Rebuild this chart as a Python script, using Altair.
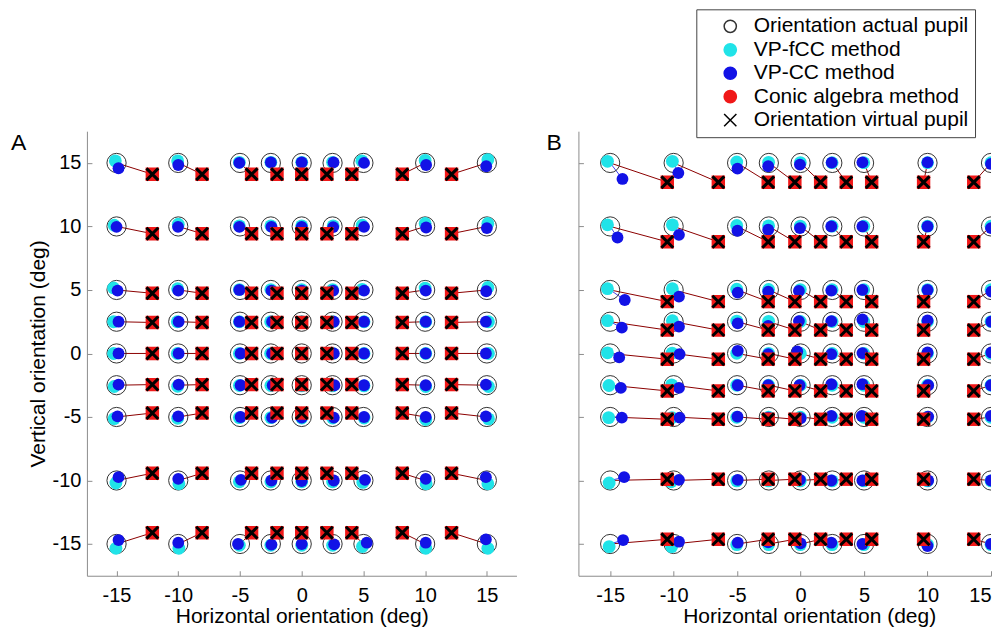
import altair as alt
import pandas as pd

FONT = "Liberation Sans"

# ---------------- data ----------------
COLS = [-15, -10, -5, -2.5, 0, 2.5, 5, 10, 15]          # actual horizontal orientation
ROWS = [15, 10, 5, 2.5, 0, -2.5, -5, -10, -15]          # actual vertical orientation
TICKS = [-15, -10, -5, 0, 5, 10, 15]
SERIES = ["Orientation actual pupil", "VP-fCC method", "VP-CC method",
          "Conic algebra method", "Orientation virtual pupil"]

# ---- panel A ----
A_VIRT_X = [-12.10, -8.07, -4.06, -2.00, 0.00, 2.04, 4.06, 8.15, 12.14]
A_VIRT_Y = [14.11, 9.43, 4.74, 2.44, 0.00, -2.45, -4.69, -9.43, -14.11]

A_CYAN_X = [
    [-15.10, -10.05, -5.05, -2.50, 0.00, 2.50, 4.87, 10.00, 15.08],
    [-15.19, -10.00, -5.05, -2.50, 0.00, 2.55, 4.90, 10.00, 15.08],
    [-15.24, -10.05, -5.05, -2.50, 0.00, 2.50, 4.90, 10.00, 15.08],
    [-15.24, -10.08, -5.05, -2.52, 0.00, 2.52, 5.05, 10.05, 15.13],
    [-15.24, -10.08, -5.05, -2.52, 0.00, 2.52, 5.05, 10.05, 15.13],
    [-15.19, -10.05, -5.05, -2.50, 0.00, 2.50, 5.05, 10.05, 15.13],
    [-15.19, -10.05, -5.05, -2.50, 0.00, 2.50, 5.05, 10.05, 15.13],
    [-15.05, -9.95, -5.05, -2.50, 0.00, 2.50, 4.95, 10.08, 15.08],
    [-15.05, -9.95, -5.05, -2.50, 0.00, 2.50, 4.92, 10.05, 15.08],
]
A_CYAN_Y = [
    [15.16, 15.16, 15.05, 15.05, 15.05, 15.05, 15.16, 15.20, 15.26],
    [10.10, 10.18, 10.05, 10.05, 10.05, 10.05, 10.10, 10.23, 10.23],
    [5.16, 5.10, 5.03, 5.03, 5.03, 5.03, 5.05, 5.15, 5.20],
    [2.50, 2.50, 2.50, 2.50, 2.50, 2.50, 2.50, 2.50, 2.50],
    [0.00, 0.00, 0.00, 0.00, 0.00, 0.00, 0.00, 0.00, 0.00],
    [-2.60, -2.58, -2.52, -2.52, -2.55, -2.55, -2.55, -2.60, -2.60],
    [-5.13, -5.10, -5.05, -5.05, -5.08, -5.08, -5.08, -5.20, -5.15],
    [-10.20, -10.26, -10.10, -10.10, -10.10, -10.10, -10.15, -10.26, -10.26],
    [-15.34, -15.34, -15.10, -15.10, -15.10, -15.10, -15.20, -15.34, -15.34],
]
A_BLUE_X = [
    [-14.84, -10.00, -5.05, -2.50, 0.00, 2.58, 5.05, 10.08, 14.95],
    [-15.00, -10.02, -5.05, -2.45, 0.00, 2.55, 5.05, 10.08, 15.00],
    [-14.92, -10.00, -5.05, -2.45, 0.00, 2.55, 5.05, 10.05, 14.95],
    [-14.84, -9.97, -5.05, -2.40, 0.00, 2.60, 5.05, 10.05, 14.92],
    [-14.84, -9.97, -4.95, -2.40, 0.00, 2.60, 5.05, 10.05, 14.92],
    [-14.84, -9.97, -4.95, -2.35, 0.00, 2.65, 5.05, 10.05, 14.92],
    [-14.92, -10.00, -4.95, -2.40, 0.00, 2.60, 5.05, 10.05, 14.92],
    [-14.84, -10.00, -4.92, -2.45, 0.00, 2.60, 5.13, 10.05, 14.92],
    [-14.84, -10.00, -5.16, -2.45, 0.00, 2.63, 5.27, 10.05, 14.92],
]
A_BLUE_Y = [
    [14.58, 14.84, 15.00, 15.05, 15.05, 15.05, 15.00, 14.84, 14.74],
    [9.97, 9.97, 9.97, 9.97, 9.97, 9.95, 9.97, 9.92, 9.87],
    [4.95, 4.95, 5.00, 4.95, 4.95, 4.95, 4.95, 4.95, 4.90],
    [2.50, 2.50, 2.50, 2.50, 2.50, 2.50, 2.50, 2.50, 2.50],
    [0.00, 0.00, 0.00, 0.00, 0.00, 0.00, 0.00, 0.00, 0.00],
    [-2.45, -2.45, -2.50, -2.50, -2.50, -2.50, -2.50, -2.50, -2.45],
    [-4.95, -4.95, -5.00, -5.05, -5.05, -5.05, -5.00, -5.00, -4.95],
    [-9.74, -9.87, -9.95, -10.00, -10.05, -10.00, -9.95, -9.87, -9.74],
    [-14.69, -14.90, -15.00, -15.05, -15.00, -15.03, -14.90, -14.90, -14.64],
]

# ---- panel B ----
B_VIRT_X = [-10.50, -6.48, -2.55, -0.45, 1.58, 3.60, 5.60, 9.69, 13.64]
B_VIRT_Y = [13.48, 8.79, 4.08, 1.84, -0.45, -2.95, -5.18, -9.90, -14.63]

B_CYAN_X = [
    [-15.21, -10.10, -5.03, -2.52, -0.02, 2.48, 4.98, 10.00, 15.00],
    [-15.21, -10.10, -5.03, -2.52, -0.02, 2.48, 4.98, 10.00, 15.00],
    [-15.21, -10.10, -5.03, -2.52, -0.02, 2.48, 4.98, 10.00, 15.00],
    [-15.21, -10.10, -5.03, -2.52, -0.02, 2.48, 4.98, 10.00, 15.00],
    [-15.21, -10.12, -5.03, -2.52, -0.02, 2.48, 4.98, 10.00, 15.00],
    [-15.10, -10.16, -5.03, -2.52, -0.02, 2.48, 4.98, 10.00, 15.00],
    [-15.12, -10.14, -5.03, -2.52, -0.02, 2.48, 4.98, 10.00, 15.00],
    [-15.08, -10.20, -5.03, -2.52, -0.02, 2.48, 4.98, 10.00, 15.00],
    [-15.08, -10.16, -5.03, -2.52, -0.02, 2.48, 4.98, 10.00, 15.00],
]
B_CYAN_Y = [
    [15.13, 15.13, 15.08, 15.05, 15.03, 15.02, 15.02, 15.02, 15.02],
    [10.13, 10.13, 10.08, 10.05, 10.03, 10.02, 10.02, 10.02, 10.02],
    [5.10, 5.10, 5.06, 5.04, 5.03, 5.02, 5.02, 5.02, 5.02],
    [2.58, 2.58, 2.55, 2.53, 2.52, 2.51, 2.51, 2.51, 2.51],
    [0.05, 0.03, 0.02, 0.01, 0.00, 0.00, 0.00, 0.00, 0.00],
    [-2.52, -2.47, -2.50, -2.50, -2.50, -2.50, -2.50, -2.50, -2.50],
    [-5.05, -5.05, -5.02, -5.02, -5.02, -5.02, -5.02, -5.02, -5.02],
    [-10.20, -10.10, -10.03, -10.03, -10.03, -10.03, -10.03, -10.03, -10.03],
    [-15.21, -15.21, -15.05, -15.05, -15.05, -15.05, -15.05, -15.05, -15.05],
]
B_BLUE_X = [
    [-14.03, -9.63, -4.97, -2.55, -0.05, 2.45, 4.87, 10.00, 15.00],
    [-14.42, -9.58, -4.97, -2.55, -0.05, 2.42, 4.87, 10.00, 15.00],
    [-13.85, -9.58, -4.95, -2.55, -0.13, 2.42, 4.87, 10.00, 15.03],
    [-14.08, -9.58, -4.95, -2.55, -0.13, 2.42, 4.87, 10.00, 15.03],
    [-14.29, -9.53, -4.95, -2.55, -0.26, 2.42, 4.87, 10.00, 15.03],
    [-14.16, -9.58, -4.95, -2.55, -0.08, 2.42, 4.87, 10.05, 15.00],
    [-14.08, -9.53, -4.97, -2.55, 0.00, 2.42, 4.82, 10.05, 15.00],
    [-13.90, -9.58, -4.95, -2.55, -0.05, 2.42, 4.87, 10.05, 15.00],
    [-13.98, -9.58, -4.95, -2.55, 0.00, 2.42, 4.87, 10.00, 15.00],
]
B_BLUE_Y = [
    [13.74, 14.21, 14.55, 14.74, 14.87, 15.03, 15.05, 15.05, 14.92],
    [9.13, 9.34, 9.66, 9.74, 9.87, 10.00, 10.00, 10.00, 9.87],
    [4.21, 4.48, 4.79, 4.87, 4.92, 4.95, 5.00, 5.00, 4.87],
    [2.03, 2.11, 2.37, 2.16, 2.55, 2.55, 2.68, 2.60, 2.50],
    [-0.31, -0.05, 0.21, -0.05, 0.16, -0.05, 0.03, 0.08, 0.08],
    [-2.71, -2.71, -2.50, -2.50, -2.50, -2.42, -2.42, -2.50, -2.50],
    [-5.05, -5.05, -4.97, -5.05, -5.10, -4.92, -4.92, -4.97, -4.92],
    [-9.74, -9.95, -9.95, -9.95, -9.95, -10.00, -10.00, -10.00, -10.00],
    [-14.69, -14.82, -14.90, -14.87, -14.95, -14.90, -15.00, -15.16, -15.00],
]


def table(cx, cy, bx, by, vx, vy):
    recs = []
    for i, r in enumerate(ROWS):
        for j, c in enumerate(COLS):
            recs.append(dict(ax=c, ay=r, cx=cx[i][j], cy=cy[i][j],
                             bx=bx[i][j], by=by[i][j], vx=vx[j], vy=vy[i]))
    return pd.DataFrame(recs)


DF_A = table(A_CYAN_X, A_CYAN_Y, A_BLUE_X, A_BLUE_Y, A_VIRT_X, A_VIRT_Y)
DF_B = table(B_CYAN_X, B_CYAN_Y, B_BLUE_X, B_BLUE_Y, B_VIRT_X, B_VIRT_Y)

# ---------------- styling ----------------
AXIS_COLOR = "#8c8c8c"
CYAN, BLUE, RED = "#20E3E8", "#1212E6", "#F01818"
X_PATH = "M-1,-1L1,1M-1,1L1,-1"

FILL_SCALE = alt.Scale(domain=SERIES, range=["transparent", CYAN, BLUE, RED, "#000000"])
STROKE_SCALE = alt.Scale(domain=SERIES, range=["#333333", CYAN, BLUE, RED, "#000000"])
SHAPE_SCALE = alt.Scale(domain=SERIES, range=["circle", "circle", "circle", "circle", X_PATH])

LEGEND = alt.Legend(
    orient="none", legendX=118, legendY=-122,
    labelFont=FONT, labelFontSize=21, labelColor="black", labelLimit=400,
    labelExpr="datum.label + '    '",
    symbolSize=150, symbolStrokeWidth=1.5, symbolOffset=17,
    labelOffset=13, rowPadding=1.5, padding=6.5,
    strokeColor="#444444", fillColor="white",
)

H = 445
Y_SCALE = alt.Scale(domain=[-17.5, 17.5], nice=False, zero=False)


def panel(df, letter, letter_x, x_domain, width, show_legend, y_labels, x_title_x, flush):
    xs = alt.Scale(domain=x_domain, nice=False, zero=False)
    clip = True
    x_axis_args = dict(
        title="Horizontal orientation (deg)", values=TICKS, grid=False,
        ticks=False, tickSize=0, labelPadding=10, titlePadding=0,
        labelFont=FONT, labelFontSize=20, labelColor="black",
        labelExpr="'' + datum.value",
        titleFont=FONT, titleFontSize=21, titleFontWeight="normal", titleColor="black",
        domainColor=AXIS_COLOR, labelFlush=flush)
    if x_title_x is not None:
        x_axis_args["titleX"] = x_title_x
    x_axis = alt.Axis(**x_axis_args)
    if y_labels:
        y_axis = alt.Axis(
            title="Vertical orientation (deg)", values=TICKS, grid=False,
            ticks=False, tickSize=0, labelPadding=6, titlePadding=4,
            labelFont=FONT, labelFontSize=20, labelColor="black",
            labelExpr="'' + datum.value",
            titleFont=FONT, titleFontSize=21, titleFontWeight="normal", titleColor="black",
            domainColor=AXIS_COLOR)
    else:
        y_axis = alt.Axis(title="", values=TICKS, grid=False, ticks=False, tickSize=0,
                          labels=False, domainColor=AXIS_COLOR)

    leg = LEGEND if show_legend else None

    def enc(xf, yf):
        return dict(
            x=alt.X(xf, type="quantitative", scale=xs, axis=x_axis),
            y=alt.Y(yf, type="quantitative", scale=Y_SCALE, axis=y_axis),
        )

    def legend_enc(with_shape=True):
        d = dict(
            fill=alt.Fill("series:N", scale=FILL_SCALE, legend=leg, title=None),
            stroke=alt.Stroke("series:N", scale=STROKE_SCALE, legend=leg, title=None),
        )
        if with_shape:
            d["shape"] = alt.Shape("series:N", scale=SHAPE_SCALE, legend=leg, title=None)
        return d

    base = alt.Chart(df)

    red_lines = base.mark_rule(color="#8B0000", strokeWidth=1, clip=clip).encode(
        x2="vx:Q", y2="vy:Q", **enc("ax", "ay"))
    blue_lines = base.mark_rule(color=BLUE, strokeWidth=0.8, clip=clip).encode(
        x2="bx:Q", y2="by:Q", **enc("ax", "ay"))

    actual = base.transform_calculate(series="'Orientation actual pupil'").mark_point(
        filled=True, size=370, strokeWidth=1, opacity=1, clip=clip).encode(
        **enc("ax", "ay"), **legend_enc())
    cyan = base.transform_calculate(series="'VP-fCC method'").mark_point(
        filled=True, size=165, strokeWidth=0, opacity=1, clip=clip).encode(
        **enc("cx", "cy"), **legend_enc())
    blue = base.transform_calculate(series="'VP-CC method'").mark_point(
        filled=True, size=140, strokeWidth=0, opacity=1, clip=clip).encode(
        **enc("bx", "by"), **legend_enc())
    red = base.transform_calculate(series="'Conic algebra method'").mark_point(
        filled=True, shape="square", size=180, strokeWidth=0, opacity=1, clip=clip).encode(
        **enc("vx", "vy"), **legend_enc(with_shape=False))
    cross = base.transform_calculate(series="'Orientation virtual pupil'").mark_point(
        filled=False, size=140, strokeWidth=3, opacity=1, clip=clip).encode(
        **enc("vx", "vy"), **legend_enc())

    inner = alt.layer(red_lines, blue_lines, actual, cyan, blue, red, cross)

    # inward pointing ticks (MATLAB style): mirrored axes moved onto the plot edges
    tick_layer = base.mark_point(opacity=0, clip=True).encode(
        x=alt.X("ax:Q", scale=xs, axis=alt.Axis(
            orient="top", offset=-H, labels=False, domain=False, ticks=True,
            tickSize=5, tickColor=AXIS_COLOR, title="", values=TICKS, grid=False,
            minExtent=0, maxExtent=0)),
        y=alt.Y("ay:Q", scale=Y_SCALE, axis=alt.Axis(
            orient="right", offset=-width, labels=False, domain=False, ticks=True,
            tickSize=5, tickColor=AXIS_COLOR, title="", values=TICKS, grid=False,
            minExtent=0, maxExtent=0)),
    )

    letter_layer = alt.Chart(pd.DataFrame({"t": [letter]})).mark_text(
        font=FONT, fontSize=23, align="left", baseline="alphabetic", color="black").encode(
        text="t:N", x=alt.value(letter_x), y=alt.value(18.5))

    return alt.layer(inner, tick_layer, letter_layer).resolve_axis(
        x="independent", y="independent").properties(width=width, height=H)


panel_a = panel(DF_A, "A", -76, [-17.4, 17.4], 430, False, True, None, False)
panel_b = panel(DF_B, "B", -32, [-17.5, 15.0], 413, True, False, 231, 3)

chart = alt.hconcat(panel_a, panel_b, spacing=30).resolve_scale(
    fill="independent", stroke="independent", shape="independent"
).properties(
    padding={"left": 3, "top": 0, "right": 0, "bottom": 0}
).configure(font=FONT).configure_view(stroke="transparent", strokeWidth=0)

chart.save("out.html", embed_options={"renderer": "svg", "actions": False})
